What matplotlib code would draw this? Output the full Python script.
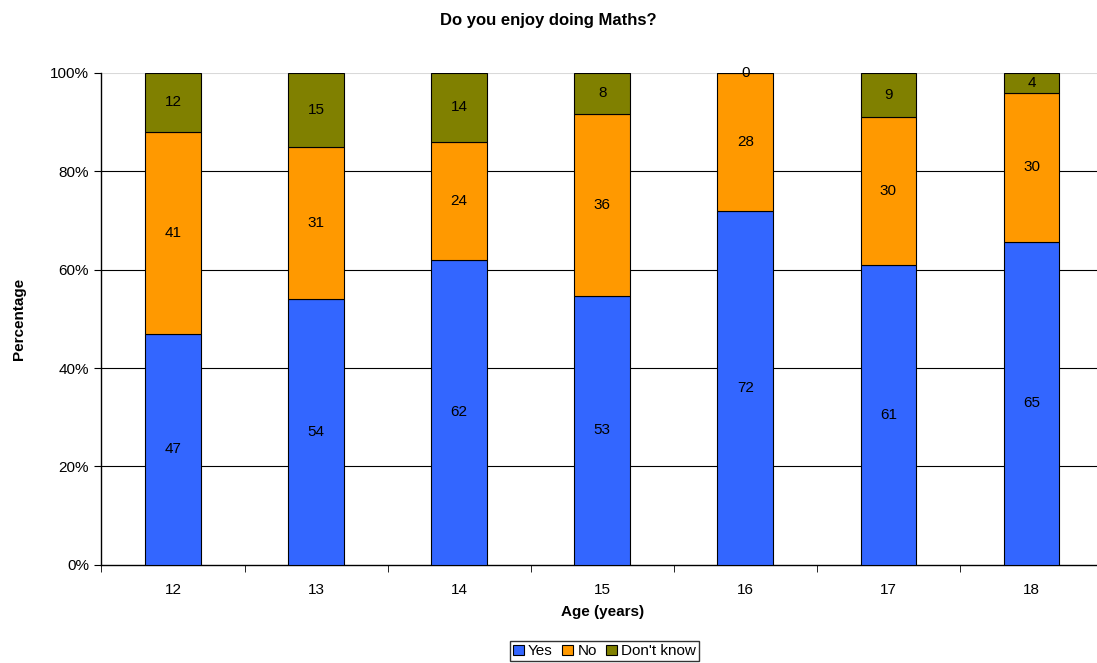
import numpy as np
import matplotlib.pyplot as plt

plt.rcParams['font.family'] = ['Liberation Sans', 'DejaVu Sans']

ages = ['12', '13', '14', '15', '16', '17', '18']
yes = [47, 54, 62, 53, 72, 61, 65]
no = [41, 31, 24, 36, 28, 30, 30]
dont_know = [12, 15, 14, 8, 0, 9, 4]

series = [('Yes', yes, '#3366FF'), ('No', no, '#FF9900'), ("Don't know", dont_know, '#808000')]

counts = np.array([yes, no, dont_know], dtype=float)
pct = counts / counts.sum(axis=0) * 100

fig = plt.figure(figsize=(10.97, 6.63), dpi=100)
ax = fig.add_axes([0.0925, 0.148, 0.913, 0.742])

x = np.arange(len(ages))
bottom = np.zeros(len(ages))
handles = []
for i, (name, vals, color) in enumerate(series):
    h = ax.bar(x, pct[i], 0.39, bottom=bottom, color=color, edgecolor='black',
               linewidth=0.8, label=name, zorder=3)
    handles.append(h)
    for j, v in enumerate(vals):
        ax.text(x[j], bottom[j] + pct[i][j] / 2, str(v), ha='center', va='center',
                fontsize=11, zorder=4)
    bottom += pct[i]

ax.set_xlim(-0.5, len(ages) - 0.5)
ax.set_ylim(0, 100)
ax.set_yticks([0, 20, 40, 60, 80, 100])
ax.set_yticklabels(['0%', '20%', '40%', '60%', '80%', '100%'], fontsize=11)
for yv in [20, 40, 60, 80]:
    ax.axhline(yv, color='black', linewidth=0.8, zorder=1)
ax.axhline(100, color='#D9D9D9', linewidth=1.5, zorder=1)

ax.set_xticks(x)
ax.set_xticklabels(ages, fontsize=11)
ax.tick_params(axis='x', length=0, pad=13)
ax.set_xticks(np.arange(-0.5, len(ages)), minor=True)
ax.tick_params(axis='x', which='minor', length=5, direction='out', color='black')
ax.tick_params(axis='y', length=5, direction='out', color='black', pad=4)

for s in ['top', 'right']:
    ax.spines[s].set_visible(False)
ax.spines['left'].set_linewidth(1.0)
ax.spines['bottom'].set_linewidth(1.0)

ax.set_xlabel('Age (years)', fontsize=11, fontweight='bold', labelpad=6)
ax.set_ylabel('Percentage', fontsize=11, fontweight='bold', labelpad=17)
fig.suptitle('Do you enjoy doing Maths?', fontsize=12, fontweight='bold', y=0.981, x=0.5)

leg = fig.legend(handles=handles, loc='lower center', bbox_to_anchor=(0.551, 0.0), ncol=3,
                 fontsize=11, frameon=True, fancybox=False, edgecolor='black',
                 handlelength=0.7, handleheight=0.7, handletextpad=0.3, columnspacing=0.6,
                 borderpad=0.2, borderaxespad=0.1)
leg.get_frame().set_linewidth(1.0)

fig.savefig('out.png', dpi=100)
